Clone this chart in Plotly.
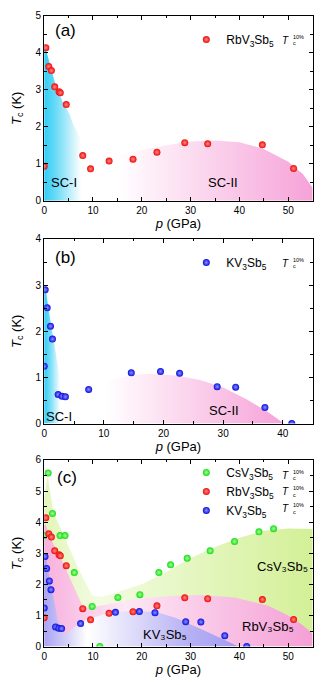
import plotly.graph_objects as go

# ---------------- data ----------------
rb_p = [0.0, 0.34, 0.94, 1.48, 2.16, 3.04, 3.3, 4.52, 7.9, 9.5, 13.3, 18.2, 23.1, 28.8, 33.5, 44.7, 51.1]
rb_T = [0.93, 4.14, 3.63, 3.52, 3.08, 2.95, 2.92, 2.60, 1.22, 0.86, 1.07, 1.12, 1.31, 1.57, 1.54, 1.51, 0.87]

k_p = [0.0, 0.17, 0.5, 1.06, 1.39, 2.34, 3.0, 3.56, 7.46, 14.6, 19.5, 22.7, 29.0, 32.1, 37.0, 41.5]
k_T = [1.24, 2.90, 2.51, 2.11, 1.83, 0.63, 0.59, 0.58, 0.74, 1.10, 1.13, 1.09, 0.80, 0.79, 0.35, 0.0]

cs_p = [0.0, 0.81, 1.7, 3.25, 4.27, 6.17, 9.83, 11.4, 15.1, 19.6, 23.5, 25.9, 29.3, 34.0, 39.0, 44.0, 47.0]
cs_T = [3.57, 5.58, 4.28, 3.57, 3.57, 2.38, 1.29, 0.0, 1.58, 1.67, 2.38, 2.63, 2.84, 3.08, 3.38, 3.69, 3.79]

# shaded phase regions (boundaries)
a_sc1_p = [0, 0, 0.3, 1.0, 2.0, 2.5, 3.0, 4.0, 5.2, 6.0, 7.0, 7.9, 8.5, 8.9, 0]
a_sc1_T = [0, 4.1, 4.12, 3.75, 3.3, 3.05, 2.9, 2.62, 2.34, 2.05, 1.8, 1.54, 1.0, 0, 0]
a_sc2_p = [8, 10, 15, 20, 25, 30, 35, 40, 45, 50, 53, 55, 55, 8]
a_sc2_T = [0, 0.9, 1.2, 1.38, 1.5, 1.6, 1.63, 1.58, 1.4, 1.05, 0.72, 0.35, 0, 0]

b_sc1_p = [0, 0, 0.2, 0.7, 1.2, 1.8, 2.3, 2.7, 3.0, 3.2, 0]
b_sc1_T = [0, 2.9, 2.95, 2.5, 2.1, 1.65, 1.25, 0.9, 0.5, 0, 0]
b_sc2_p = [5, 8, 10, 15, 18, 22, 26, 30, 34, 37.5, 40.2, 5]
b_sc2_T = [0, 0.8, 0.92, 1.06, 1.08, 1.04, 0.95, 0.78, 0.52, 0.25, 0, 0]

c_cs_p = [0, 0, 0.7, 1.2, 1.7, 2.5, 3.5, 4.4, 5.8, 7.1, 8.5, 9.8, 12, 15, 20, 25, 30, 35, 40, 45, 50, 55, 55, 30, 12, 8, 5, 0]
c_cs_T = [0.4, 4.75, 5.5, 5.0, 4.48, 4.1, 3.75, 3.43, 2.95, 2.48, 2.05, 1.64, 1.6, 1.75, 2.0, 2.4, 2.85, 3.2, 3.5, 3.72, 3.8, 3.78, 0.45, 1.3, 1.3, 1.2, 0.4, 0.4]
c_rb_p = [0, 0, 0.3, 1.0, 2.0, 3.05, 4.4, 5.75, 7.0, 7.8, 9.0, 12, 15, 18.6, 25, 32, 39, 45.8, 50, 52.5, 55, 55, 40, 9.5, 4.4, 0]
c_rb_T = [0.4, 3.9, 3.92, 3.6, 3.25, 3.0, 2.5, 2.06, 1.6, 1.32, 1.25, 1.33, 1.42, 1.53, 1.62, 1.66, 1.58, 1.32, 1.0, 0.74, 0.42, 0, 0, 0.95, 0.37, 0.4]
c_k_p = [0, 0, 0.3, 0.7, 1.2, 1.8, 2.3, 2.8, 3.5, 4.4, 5.5, 7, 9, 12, 15, 18, 21, 24, 27, 30, 33, 36, 39.8, 0]
c_k_T = [0, 2.9, 2.92, 2.5, 2.1, 1.65, 1.25, 0.85, 0.55, 0.38, 0.55, 0.72, 0.88, 1.02, 1.1, 1.15, 1.13, 1.06, 0.92, 0.72, 0.5, 0.28, 0, 0]

# ---------------- figure ----------------
FONT = "Liberation Sans, Arial, sans-serif"
OFF = 8                      # page body margin
W, H = 327 - OFF, 685 - OFF  # figure size


def fx(px):
    return (px - OFF) / W


def fy(py):
    return 1 - (py - OFF) / H


xdom = [fx(41.5), fx(312.5)]
doms = [[fy(198), fy(10)], [fy(425), fy(237)], [fy(652), fy(462)]]

fig = go.Figure()


def region(p, T, xa, ya, scale):
    fig.add_trace(go.Scatter(x=p, y=T, xaxis=xa, yaxis=ya, mode="lines", line=dict(width=0),
                             fill="toself", fillgradient=dict(type="horizontal", colorscale=scale),
                             hoverinfo="skip", showlegend=False))


CYAN = [[0, "#2fcdf5"], [0.3, "#72dcf7"], [0.85, "#ffffff"], [1, "#ffffff"]]
PINK_R = [[0, "#ffffff"], [0.15, "#ffffff"], [1, "#f6a2d8"]]

region(a_sc1_p, a_sc1_T, "x", "y", CYAN)
region(a_sc2_p, a_sc2_T, "x", "y", PINK_R)
region(b_sc1_p, b_sc1_T, "x2", "y2", CYAN)
region(b_sc2_p, b_sc2_T, "x2", "y2", PINK_R)
region(c_cs_p, c_cs_T, "x3", "y3", [[0, "#e2f6b8"], [0.2, "#f3fbe2"], [1, "#d3f097"]])
region(c_rb_p, c_rb_T, "x3", "y3", [[0, "#f7b0de"], [0.3, "#fde8f5"], [1, "#f59fd6"]])
region(c_k_p, c_k_T, "x3", "y3", [[0, "#aaa3f2"], [0.12, "#d5d2f8"], [0.22, "#ffffff"], [0.75, "#b6b0f4"], [1, "#a39bf0"]])

RED = dict(color="#ee0a0a", size=7, gradient=dict(type="radial", color="#ff8a80"), line=dict(width=0))
BLUE = dict(color="#0c0ce0", size=7, gradient=dict(type="radial", color="#8a94ff"), line=dict(width=0))
GREEN = dict(color="#14dc14", size=7, gradient=dict(type="radial", color="#a8ff98"), line=dict(width=0))

RB_NAME = "RbV<sub>3</sub>Sb<sub>5</sub>"
K_NAME = "KV<sub>3</sub>Sb<sub>5</sub>"
CS_NAME = "CsV<sub>3</sub>Sb<sub>5</sub>"

fig.add_trace(go.Scatter(x=rb_p, y=rb_T, xaxis="x", yaxis="y", mode="markers", marker=RED, name=RB_NAME, legend="legend"))
fig.add_trace(go.Scatter(x=k_p, y=k_T, xaxis="x2", yaxis="y2", mode="markers", marker=BLUE, name=K_NAME, legend="legend2"))
fig.add_trace(go.Scatter(x=cs_p, y=cs_T, xaxis="x3", yaxis="y3", mode="markers", marker=GREEN, name=CS_NAME, legend="legend3"))
fig.add_trace(go.Scatter(x=rb_p, y=rb_T, xaxis="x3", yaxis="y3", mode="markers", marker=RED, name=RB_NAME, legend="legend3"))
fig.add_trace(go.Scatter(x=k_p, y=k_T, xaxis="x3", yaxis="y3", mode="markers", marker=BLUE, name=K_NAME, legend="legend3"))

ax_common = dict(showline=True, linecolor="black", linewidth=1, mirror="ticks", ticks="inside",
                 ticklen=4, tickwidth=1, tickcolor="black", showgrid=False, zeroline=False,
                 tickfont=dict(family=FONT, size=10, color="black"))

xmax = [55, 45, 55]
ymax = [5, 4, 6]
for i in range(3):
    s = "" if i == 0 else str(i + 1)
    fig.update_layout(**{
        "xaxis" + s: dict(ax_common, domain=xdom, anchor="y" + s, range=[0, xmax[i]], dtick=10,
                          minor=dict(dtick=5, ticks="inside", ticklen=2.5, tickcolor="black"),
                          title=dict(text="<i>p</i> (GPa)", font=dict(family=FONT, size=13, color="black"), standoff=0)),
        "yaxis" + s: dict(ax_common, domain=doms[i], anchor="x" + s, range=[0, ymax[i]], dtick=1,
                          minor=dict(dtick=0.5, ticks="inside", ticklen=2.5, tickcolor="black"),
                          title=dict(text="<i>T</i><sub>c</sub> (K)", font=dict(family=FONT, size=13, color="black"), standoff=11)),
    })

leg = dict(font=dict(family=FONT, size=12, color="black"), bgcolor="rgba(0,0,0,0)", xanchor="left",
           yanchor="middle", itemwidth=30, tracegroupgap=0)
fig.update_layout(
    legend=dict(leg, x=fx(185), y=fy(34)),
    legend2=dict(leg, x=fx(185), y=fy(261)),
    legend3=dict(leg, x=fx(185), y=fy(494)),
)

ann = []


def txt(t, px, py, size, xanchor="center", **kw):
    ann.append(dict(text=t, x=fx(px), y=fy(py), xref="paper", yref="paper", showarrow=False,
                    xanchor=xanchor, yanchor="middle",
                    font=dict(family=FONT, size=size, color="black"), **kw))


txt("(a)", 63, 25, 17)
txt("(b)", 63, 256, 17)
txt("(c)", 65, 480, 17)
txt("SC-I", 62, 180, 13)
txt("SC-II", 222, 180, 13)
txt("SC-I", 56, 418, 13)
txt("SC-II", 223, 412, 13)
txt("CsV₃Sb₅", 282, 570, 13)
txt("RbV₃Sb₅", 267, 632, 13)
txt("KV₃Sb₅", 163, 640, 13)
for ry in [34, 261, 477, 494, 511]:
    txt("<i>T</i>", 291, ry + 0.5, 10, xanchor="right")
    txt("10%", 290.3, ry - 3, 5.5, xanchor="left")
    txt("c", 290.3, ry + 3.5, 5.5, xanchor="left")

fig.update_layout(annotations=ann, width=W, height=H, margin=dict(l=0, r=0, t=0, b=0),
                  plot_bgcolor="white", paper_bgcolor="white", font=dict(family=FONT))

fig.write_html("out.html")
